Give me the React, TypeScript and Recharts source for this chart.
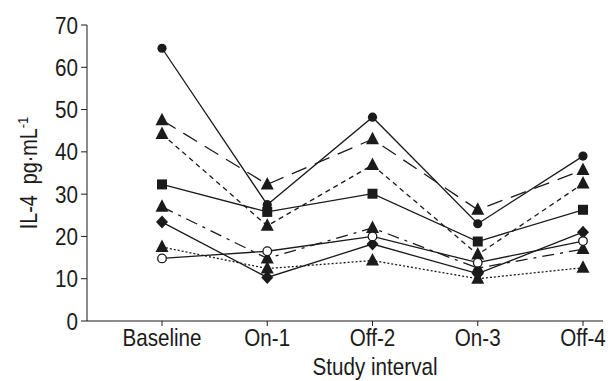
import React from 'react';
import { LineChart, Line, XAxis, YAxis } from 'recharts';

const categories = ['Baseline', 'On-1', 'Off-2', 'On-3', 'Off-4'];
const yTicks = [0, 10, 20, 30, 40, 50, 60, 70];

const s1Circle = [64.5, 27.5, 48.2, 23, 39];
const s2TriLongDash = [47.5, 32.3, 43, 26.3, 35.7];
const s3TriShortDash = [44.2, 22.5, 36.9, 15.7, 32.5];
const s4Square = [32.3, 25.8, 30.1, 18.8, 26.3];
const s5TriDashDot = [27, 14.8, 22, 12.5, 17];
const s6Diamond = [23.4, 10.3, 18.2, 11.2, 21];
const s7TriDotted = [17.5, 12.4, 14.3, 10, 12.6];
const s8OpenCircle = [14.8, 16.5, 20, 13.8, 18.9];

const data = categories.map((c, i) => ({
  x: i,
  s1: s1Circle[i],
  s2: s2TriLongDash[i],
  s3: s3TriShortDash[i],
  s4: s4Square[i],
  s5: s5TriDashDot[i],
  s6: s6Diamond[i],
  s7: s7TriDotted[i],
  s8: s8OpenCircle[i],
}));

const INK = '#1b1b1b';
const FONT = '"Liberation Sans", Arial, sans-serif';
const SX = 0.86;
const FS = 24;

const mk = (kind: string) => (props: any) => {
  const { cx, cy, index } = props;
  const key = `${kind}-${index}`;
  if (cx == null || cy == null) return <g key={key} />;
  switch (kind) {
    case 'circle':
      return <circle key={key} cx={cx} cy={cy} r={4.6} fill={INK} stroke="none" />;
    case 'open':
      return <circle key={key} cx={cx} cy={cy} r={4.3} fill="#fff" stroke={INK} strokeWidth={1.3} />;
    case 'square':
      return <rect key={key} x={cx - 5} y={cy - 5} width={10} height={10} fill={INK} />;
    case 'diamond':
      return <polygon key={key} points={`${cx},${cy - 6.5} ${cx + 6},${cy} ${cx},${cy + 6.5} ${cx - 6},${cy}`} fill={INK} />;
    default:
      return <polygon key={key} points={`${cx},${cy - 7.5} ${cx - 6.5},${cy + 5} ${cx + 6.5},${cy + 5}`} fill={INK} />;
  }
};

const XTick = (props: any) => {
  const { x, y, payload } = props;
  return (
    <g transform={`translate(${x},${y + 18}) scale(${SX},1)`}>
      <text x={0} y={0} textAnchor="middle" fontFamily={FONT} fontSize={FS} fill={INK}>
        {categories[payload.value]}
      </text>
    </g>
  );
};

const YTick = (props: any) => {
  const { x, y, payload } = props;
  return (
    <g transform={`translate(${x - 1},${y + 8.5}) scale(${SX},1)`}>
      <text x={0} y={0} textAnchor="end" fontFamily={FONT} fontSize={FS} fill={INK}>
        {payload.value}
      </text>
    </g>
  );
};

const YLabel = () => {
  const cx = 29;
  const cy = 173;
  return (
    <g transform={`translate(${cx},${cy}) rotate(-90) scale(${SX},1)`}>
      <text x={0} y={8} textAnchor="middle" fontFamily={FONT} fontSize={23} fill={INK}>
        <tspan>{'IL-4\u00a0\u00a0pg·mL'}</tspan>
        <tspan fontSize={15} dy={-9}>-1</tspan>
      </text>
    </g>
  );
};

const XLabel = () => (
  <g transform={`translate(375,375) scale(${SX},1)`}>
    <text x={0} y={0} textAnchor="middle" fontFamily={FONT} fontSize={FS} fill={INK}>
      Study interval
    </text>
  </g>
);

export default function App() {
  return (
    <div style={{ position: 'absolute', left: 0, top: 0, background: '#fff' }}>
      <LineChart
        width={614}
        height={381}
        data={data}
        margin={{ top: 25, right: 11, bottom: 0, left: 0 }}
      >
        <XAxis
          dataKey="x"
          type="number"
          domain={[-0.7126, 4.19]}
          allowDataOverflow
          ticks={[0, 1, 2, 3, 4]}
          height={60}
          stroke={INK}
          tickLine={{ stroke: INK }}
          tickSize={5}
          tick={<XTick />}
          interval={0}
          label={<XLabel />}
        />
        <YAxis
          type="number"
          domain={[0, 70]}
          ticks={yTicks}
          width={87}
          stroke={INK}
          tickSize={6}
          tick={<YTick />}
          label={<YLabel />}
        />
        <Line dataKey="s2" stroke={INK} strokeWidth={1.3} strokeDasharray="16 9" dot={mk('tri')} isAnimationActive={false} />
        <Line dataKey="s3" stroke={INK} strokeWidth={1.3} strokeDasharray="5 4" dot={mk('tri')} isAnimationActive={false} />
        <Line dataKey="s5" stroke={INK} strokeWidth={1.3} strokeDasharray="12 6 3 6" dot={mk('tri')} isAnimationActive={false} />
        <Line dataKey="s7" stroke={INK} strokeWidth={1.3} strokeDasharray="2 2" dot={mk('tri')} isAnimationActive={false} />
        <Line dataKey="s4" stroke={INK} strokeWidth={1.3} dot={mk('square')} isAnimationActive={false} />
        <Line dataKey="s6" stroke={INK} strokeWidth={1.3} dot={mk('diamond')} isAnimationActive={false} />
        <Line dataKey="s1" stroke={INK} strokeWidth={1.3} dot={mk('circle')} isAnimationActive={false} />
        <Line dataKey="s8" stroke={INK} strokeWidth={1.3} dot={mk('open')} isAnimationActive={false} />
      </LineChart>
    </div>
  );
}
